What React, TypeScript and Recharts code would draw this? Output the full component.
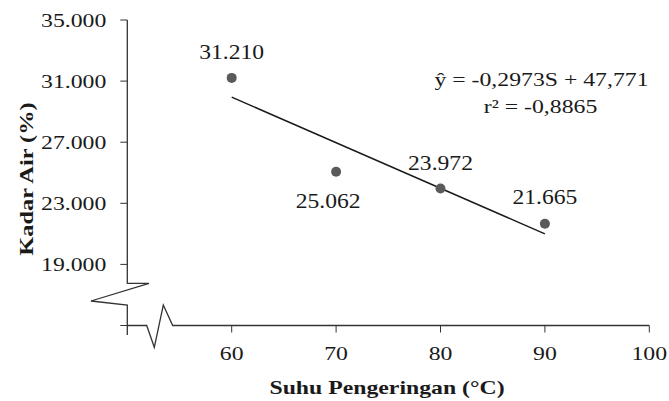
import React from 'react';
import { ComposedChart, Scatter, Line, XAxis, YAxis } from 'recharts';

const suhu = [60, 70, 80, 90];
const kadarAir = [31.21, 25.062, 23.972, 21.665];
const trendX = [60, 90];
const trendY = [29.95, 21.0];
const xTicks = [60, 70, 80, 90, 100];
const yTicks = [15, 19, 23, 27, 31, 35];

const points = suhu.map((s, i) => ({ x: s, y: kadarAir[i] }));
const trend = trendX.map((s, i) => ({ x: s, y: trendY[i] }));

// label placement per point: [dx, dy] relative to the dot centre (baseline)
const labelOffsets: [number, number][] = [
  [0, -19],
  [-8, 36],
  [0, -18.5],
  [0, -19.5],
];

const FONT = '"Liberation Serif", "Times New Roman", serif';
const STRETCH = 1.25;
const W = 669;
const H = 401;

const YTick = (props: any) => {
  const { x, y, payload } = props;
  if (payload.value === 15) return null;
  return (
    <text
      transform={`translate(${x},${y}) scale(${STRETCH},1)`}
      textAnchor="end"
      dy="0.36em"
      fontSize={19}
      fontFamily={FONT}
      fill="#1a1a1a"
    >
      {payload.value.toFixed(3)}
    </text>
  );
};

const XTick = (props: any) => {
  const { x, y, payload } = props;
  return (
    <text
      transform={`translate(${x},${y}) scale(${STRETCH},1)`}
      textAnchor="middle"
      dy="0.71em"
      fontSize={19}
      fontFamily={FONT}
      fill="#1a1a1a"
    >
      {payload.value}
    </text>
  );
};

const Dot = (props: any) => {
  const { cx, cy, index, payload } = props;
  const [dx, dy] = labelOffsets[index] || [0, -19];
  return (
    <g>
      <circle cx={cx} cy={cy} r={5} fill="#5a5a5a" />
      <text
        transform={`translate(${cx + dx},${cy + dy}) scale(1.18,1)`}
        textAnchor="middle"
        fontSize={20}
        fontFamily={FONT}
        fill="#1a1a1a"
      >
        {payload.y.toFixed(3)}
      </text>
    </g>
  );
};

export default function App() {
  return (
    <div style={{ position: 'absolute', left: 0, top: 0, width: W, height: H, background: '#fff' }}>
      <ComposedChart
        width={W}
        height={H}
        margin={{ top: 20, right: 19.7, bottom: 45.5, left: 67.3 }}
      >
        <XAxis
          dataKey="x"
          type="number"
          domain={[50, 100]}
          ticks={xTicks}
          axisLine={false}
          tickLine={{ stroke: '#333' }}
          tickSize={7}
          tickMargin={14}
          height={30}
          tick={<XTick />}
          interval={0}
        />
        <YAxis
          dataKey="y"
          type="number"
          domain={[15, 35]}
          ticks={yTicks}
          axisLine={false}
          tickLine={{ stroke: '#333' }}
          tickSize={7}
          tickMargin={14}
          width={60}
          tick={<YTick />}
          interval={0}
        />
        <Line
          data={trend}
          dataKey="y"
          type="linear"
          stroke="#1a1a1a"
          strokeWidth={1.4}
          dot={false}
          activeDot={false}
          isAnimationActive={false}
        />
        <Scatter data={points} dataKey="y" shape={<Dot />} isAnimationActive={false} />
      </ComposedChart>
      <svg
        width={W}
        height={H}
        style={{ position: 'absolute', left: 0, top: 0, pointerEvents: 'none' }}
      >
        <polyline
          points="127.3,20 127.3,283.3 149,283.3 91,301 127.3,305 127.3,335"
          fill="none"
          stroke="#333"
          strokeWidth={1.3}
        />
        <polyline
          points="127.3,325.5 146.7,325.5 154.3,347.3 163.3,305 172.7,325.5 649.3,325.5"
          fill="none"
          stroke="#333"
          strokeWidth={1.3}
        />
        <text
          transform={`translate(541.5,86) scale(${STRETCH},1)`}
          textAnchor="middle"
          fontSize={19}
          fontFamily={FONT}
          fill="#1a1a1a"
        >
          ŷ = -0,2973S + 47,771
        </text>
        <text
          transform={`translate(540.5,112.7) scale(${STRETCH},1)`}
          textAnchor="middle"
          fontSize={19}
          fontFamily={FONT}
          fill="#1a1a1a"
        >
          r² = -0,8865
        </text>
        <text
          transform={`translate(387,394) scale(${STRETCH},1)`}
          textAnchor="middle"
          fontSize={19}
          fontWeight="bold"
          fontFamily={FONT}
          fill="#1a1a1a"
        >
          Suhu  Pengeringan (°C)
        </text>
        <text
          transform={`translate(33,179) rotate(-90) scale(${STRETCH},1)`}
          textAnchor="middle"
          fontSize={19.5}
          fontWeight="bold"
          fontFamily={FONT}
          fill="#1a1a1a"
        >
          Kadar Air (%)
        </text>
      </svg>
    </div>
  );
}
